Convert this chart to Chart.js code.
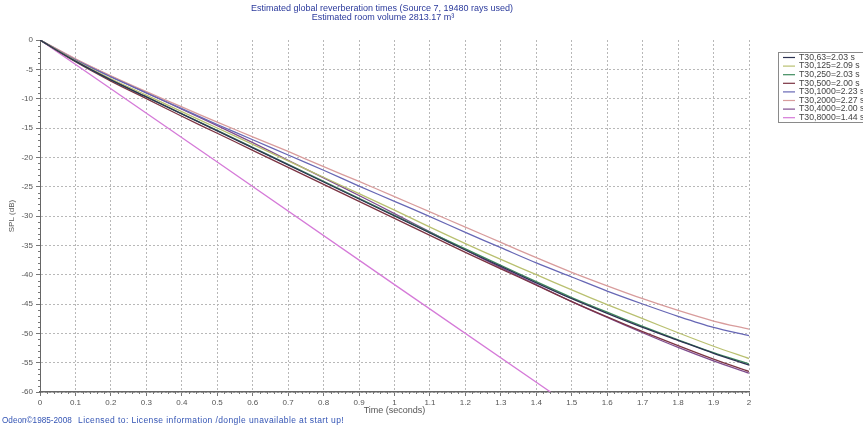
<!DOCTYPE html>
<html>
<head>
<meta charset="utf-8">
<script src="https://cdn.jsdelivr.net/npm/chart.js@4.4.1/dist/chart.umd.min.js"></script>
<style>
  html, body { margin: 0; padding: 0; background: #fff; overflow: hidden; }
  #wrap { position: relative; width: 863px; height: 428px; }
</style>
</head>
<body>
<div id="wrap"><canvas id="c" width="863" height="428"></canvas></div>
<script>
// Decay curves (dB) sampled every 0.1 s
const times = [0, 0.1, 0.2, 0.3, 0.4, 0.5, 0.6, 0.7, 0.8, 0.9, 1.0,
               1.1, 1.2, 1.3, 1.4, 1.5, 1.6, 1.7, 1.8, 1.9, 2.0];

const spl63   = [0, -3.6, -6.8, -9.7, -12.6, -15.5, -18.4, -21.3, -24.2, -27.1, -30.0,
                 -32.9, -35.8, -38.6, -41.4, -44.1, -46.6, -49.0, -51.2, -53.4, -55.4];
const spl125  = [0, -3.5, -6.6, -9.4, -12.2, -15.0, -17.8, -20.6, -23.4, -26.2, -29.0,
                 -31.9, -34.7, -37.4, -40.0, -42.6, -45.1, -47.5, -49.9, -52.2, -54.3];
const spl250  = [0, -3.6, -6.8, -9.7, -12.6, -15.4, -18.3, -21.2, -24.1, -27.0, -29.9,
                 -32.8, -35.6, -38.4, -41.2, -43.9, -46.4, -48.8, -51.1, -53.3, -55.2];
const spl500  = [0, -3.7, -7.0, -10.0, -13.0, -15.9, -18.8, -21.7, -24.6, -27.5, -30.4,
                 -33.3, -36.2, -39.0, -41.8, -44.6, -47.2, -49.7, -52.1, -54.4, -56.5];
const spl1000 = [0, -3.4, -6.3, -9.0, -11.7, -14.4, -17.0, -19.6, -22.2, -24.9, -27.5,
                 -30.1, -32.8, -35.4, -38.0, -40.4, -42.8, -45.0, -47.1, -49.0, -50.4];
const spl2000 = [0, -3.2, -6.1, -8.8, -11.4, -14.0, -16.5, -19.0, -21.6, -24.1, -26.7,
                 -29.3, -31.9, -34.5, -37.1, -39.6, -41.9, -44.1, -46.1, -47.9, -49.3];
const spl4000 = [0, -3.3, -6.2, -9.0, -11.8, -14.6, -17.5, -20.5, -23.5, -26.5, -29.6,
                 -32.7, -35.8, -38.8, -41.7, -44.6, -47.3, -49.9, -52.4, -54.7, -56.8];

// 8 kHz band decays straight down to the floor
const times8000 = [0, 0.5, 1.0, 1.44];
const spl8000   = [0, -20.8, -41.7, -60];

const bandLabels = ['T30,63=2.03 s', 'T30,125=2.09 s', 'T30,250=2.03 s', 'T30,500=2.00 s',
                    'T30,1000=2.23 s', 'T30,2000=2.27 s', 'T30,4000=2.00 s', 'T30,8000=1.44 s'];

const xTickLabels = ['0','0.1','0.2','0.3','0.4','0.5','0.6','0.7','0.8','0.9','1',
                     '1.1','1.2','1.3','1.4','1.5','1.6','1.7','1.8','1.9','2'];

const titleLines = ['Estimated global reverberation times (Source 7, 19480 rays used)',
                    'Estimated room volume 2813.17 m\u00B3'];
const footerCopyright = 'Odeon\u00A91985-2008';
const footerLicense = 'Licensed to: License information /dongle unavailable at start up!';

// Styling
const bandColors = ['#2c3252', '#b9c070', '#3f8c5e', '#7b3342', '#6767b5', '#d89c9c', '#7f4c8e', '#d57ad8'];
const FONT = '"Liberation Sans", Arial, sans-serif';

function pts(xs, ys) { return xs.map((x, i) => ({ x: x, y: ys[i] })); }

const series = [spl63, spl125, spl250, spl500, spl1000, spl2000, spl4000];
const datasets = series.map((ys, i) => ({
  label: bandLabels[i],
  data: pts(times, ys),
  borderColor: bandColors[i],
  borderWidth: 1.3,
  pointRadius: 0,
  showLine: true,
  fill: false,
  tension: 0.3
}));
datasets.push({
  label: bandLabels[7],
  data: pts(times8000, spl8000),
  borderColor: bandColors[7],
  borderWidth: 1.3,
  pointRadius: 0,
  showLine: true,
  fill: false,
  tension: 0
});

// Titles, axis captions, footer, minor ticks and the boxed legend
const decorations = {
  id: 'decorations',
  afterDraw(chart) {
    const ctx = chart.ctx;
    const xs = chart.scales.x, ys = chart.scales.y;
    const area = chart.chartArea;
    ctx.save();

    // minor ticks
    ctx.strokeStyle = '#777';
    ctx.lineWidth = 1;
    ctx.beginPath();
    for (let k = 0; k <= 100; k++) {
      if (k % 5 === 0) continue;
      const px = Math.round(xs.getPixelForValue(k * 0.02)) + 0.5;
      ctx.moveTo(px, area.bottom);
      ctx.lineTo(px, area.bottom + 2);
    }
    for (let k = 0; k <= 60; k++) {
      if (k % 5 === 0) continue;
      const py = Math.round(ys.getPixelForValue(-k)) + 0.5;
      ctx.moveTo(area.left, py);
      ctx.lineTo(area.left - 2, py);
    }
    ctx.stroke();

    // chart title
    ctx.fillStyle = '#2b3a9c';
    ctx.font = '9px ' + FONT;
    ctx.textAlign = 'center';
    ctx.textBaseline = 'middle';
    ctx.fillText(titleLines[0], 382, 9);
    ctx.fillText(titleLines[1], 383, 17.5);

    // axis captions
    ctx.fillStyle = '#555';
    ctx.font = '9px ' + FONT;
    ctx.fillText('Time (seconds)', (area.left + area.right) / 2, 411);
    ctx.save();
    ctx.translate(12, (area.top + area.bottom) / 2);
    ctx.rotate(-Math.PI / 2);
    ctx.font = '8px ' + FONT;
    ctx.fillText('SPL (dB)', 0, 0);
    ctx.restore();

    // footer
    ctx.fillStyle = '#3354b4';
    ctx.textAlign = 'left';
    ctx.font = '8.2px ' + FONT;
    ctx.fillText(footerCopyright, 2, 421);
    ctx.font = '8.5px ' + FONT;
    if ('letterSpacing' in ctx) ctx.letterSpacing = '0.4px';
    ctx.fillText(footerLicense, 78, 421);
    if ('letterSpacing' in ctx) ctx.letterSpacing = '0px';

    // legend
    const lx = 778, ly = 52, lh = 70;
    ctx.fillStyle = '#fff';
    ctx.fillRect(lx, ly, 100, lh);
    ctx.strokeStyle = '#8a8a8a';
    ctx.lineWidth = 1;
    ctx.strokeRect(lx + 0.5, ly + 0.5, 100, lh);
    ctx.font = '8.7px ' + FONT;
    ctx.textAlign = 'left';
    chart.data.datasets.forEach((ds, i) => {
      const y = ly + 5.5 + i * 8.6;
      ctx.strokeStyle = ds.borderColor;
      ctx.lineWidth = 1.2;
      ctx.beginPath();
      ctx.moveTo(lx + 5, y);
      ctx.lineTo(lx + 17, y);
      ctx.stroke();
      ctx.fillStyle = '#444';
      ctx.fillText(ds.label, lx + 21, y);
    });

    ctx.restore();
  }
};

new Chart(document.getElementById('c'), {
  type: 'scatter',
  data: { datasets: datasets },
  plugins: [decorations],
  options: {
    responsive: false,
    animation: false,
    devicePixelRatio: 1,
    layout: { padding: { left: 0, top: 40, right: 114, bottom: 0 } },
    plugins: { legend: { display: false }, tooltip: { enabled: false }, title: { display: false } },
    scales: {
      x: {
        type: 'linear',
        min: 0, max: 2,
        afterFit(scale) { scale.height = 36; },
        afterBuildTicks(scale) { scale.ticks = xTickLabels.map((t, i) => ({ value: i / 10 })); },
        ticks: {
          callback: (v, i) => xTickLabels[i],
          font: { size: 8, family: FONT },
          color: '#555',
          maxRotation: 0,
          autoSkip: false,
          padding: 2
        },
        grid: {
          color: '#b8b8b8',
          tickColor: '#777',
          tickLength: 4
        },
        border: { display: true, color: '#666', width: 1.6, dash: [2, 2] }
      },
      y: {
        type: 'linear',
        min: -60, max: 0,
        afterFit(scale) { scale.width = 40; },
        ticks: {
          stepSize: 5,
          font: { size: 8, family: FONT },
          color: '#555',
          padding: 3
        },
        grid: {
          color: (c) => c.tick && c.tick.value === 0 ? 'rgba(0,0,0,0)' : '#b8b8b8',
          tickColor: '#777',
          tickLength: 4
        },
        border: { display: true, color: '#666', width: 1, dash: [2, 2] }
      }
    }
  }
});
</script>
</body>
</html>
